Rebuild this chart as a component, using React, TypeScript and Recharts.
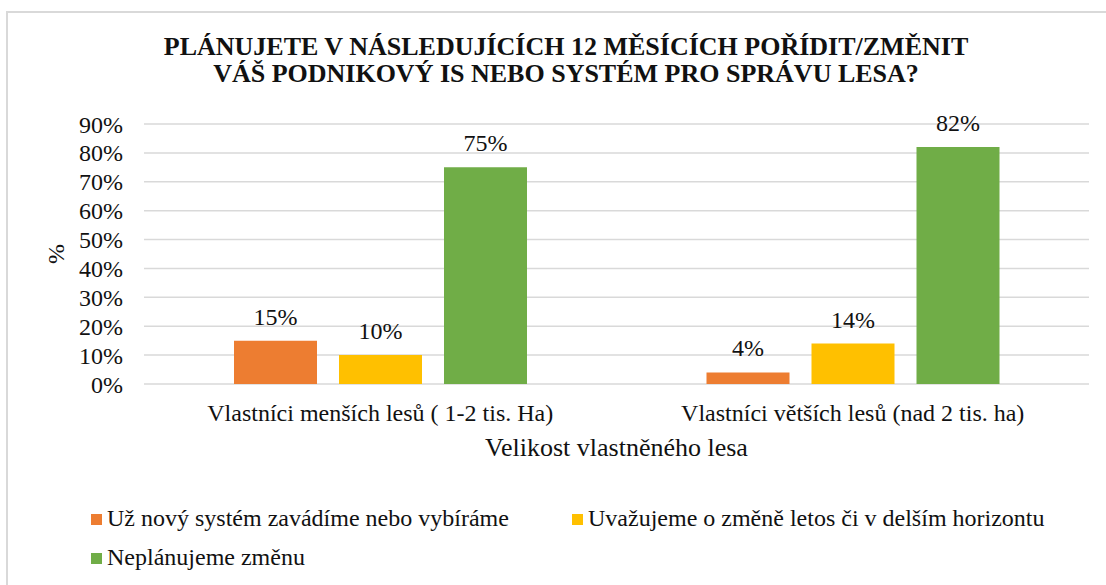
import { BarChart, Bar, XAxis, YAxis, CartesianGrid, LabelList, Legend, Label } from "recharts";

const categories = [
  "Vlastníci menších lesů ( 1-2 tis. Ha)",
  "Vlastníci větších lesů (nad 2 tis. ha)",
];
const seriesNames = [
  "Už nový systém zavádíme nebo vybíráme",
  "Uvažujeme o změně letos či v delším horizontu",
  "Neplánujeme změnu",
];
const alreadyChoosing = [15, 4];
const consideringChange = [10, 14];
const noChangePlanned = [75, 82];
const yTicks = [0, 10, 20, 30, 40, 50, 60, 70, 80, 90];
const colors = ["#ED7D31", "#FFC000", "#70AD47"];

const data = categories.map((category, i) => ({
  category,
  s0: alreadyChoosing[i],
  s1: consideringChange[i],
  s2: noChangePlanned[i],
}));

const FONT = "Liberation Serif, DejaVu Serif, Times New Roman, serif";
const TEXT = "#111";

// legend slots, same order as seriesNames
const legendPos = [
  { left: 91, top: 504 },
  { left: 572, top: 504 },
  { left: 91, top: 543 },
];

function LegendContent({ payload }: any) {
  const items = payload || [];
  return (
    <div>
      {items.map((item: any) => {
        const p = legendPos[seriesNames.indexOf(item.value)] || legendPos[0];
        return (
          <div
            key={item.value}
            style={{
              position: "absolute",
              left: p.left,
              top: p.top,
              display: "flex",
              alignItems: "center",
              height: 28,
              whiteSpace: "nowrap",
            }}
          >
            <span style={{ width: 11, height: 11, background: item.color, marginRight: 5, marginTop: 2 }} />
            <span style={{ fontSize: 24, color: TEXT, fontFamily: FONT }}>{item.value}</span>
          </div>
        );
      })}
    </div>
  );
}

export default function App() {
  return (
    <div style={{ position: "absolute", left: 0, top: 0, width: 1106, height: 585, overflow: "hidden", background: "#fff", fontFamily: FONT }}>
      <div
        style={{
          position: "absolute",
          left: 6,
          top: 11,
          width: 1200,
          height: 700,
          borderLeft: "2px solid #d9d9d9",
          borderTop: "2px solid #d9d9d9",
        }}
      />
      <div
        style={{
          position: "absolute",
          left: 0,
          width: 1132,
          top: 33,
          textAlign: "center",
          fontWeight: "bold",
          fontSize: 26,
          lineHeight: "27px",
          color: TEXT,
          fontFamily: FONT,
        }}
      >
        PLÁNUJETE V NÁSLEDUJÍCÍCH 12 MĚSÍCÍCH POŘÍDIT/ZMĚNIT
        <br />
        VÁŠ PODNIKOVÝ IS NEBO SYSTÉM PRO SPRÁVU LESA?
      </div>
      <BarChart
        width={1106}
        height={585}
        data={data}
        margin={{ top: 124, right: 17, bottom: 121, left: 8 }}
        barSize={83}
        barGap={22}
        style={{ fontFamily: FONT }}
      >
        <CartesianGrid vertical={false} stroke="#d9d9d9" strokeWidth={1.5} />
        <XAxis
          dataKey="category"
          axisLine={false}
          tickLine={false}
          tickSize={0}
          tickMargin={20}
          height={80}
          tick={{ fill: TEXT, fontSize: 24, fontFamily: FONT }}
        >
          <Label value="Velikost vlastněného lesa" position="insideTop" offset={54} fill={TEXT} fontSize={26} fontFamily={FONT} />
        </XAxis>
        <YAxis
          domain={[0, 90]}
          ticks={yTicks}
          interval={0}
          tickFormatter={(v: number) => `${v}%`}
          axisLine={false}
          tickLine={false}
          tickSize={0}
          tickMargin={21}
          width={136}
          tick={{ fill: TEXT, fontSize: 24, fontFamily: FONT }}
        >
          <Label
            content={({ viewBox }: any) => {
              const cx = 56;
              const cy = viewBox.y + viewBox.height / 2;
              return (
                <text
                  x={cx}
                  y={cy}
                  transform={`rotate(-90 ${cx} ${cy})`}
                  textAnchor="middle"
                  dominantBaseline="central"
                  fill={TEXT}
                  fontSize={24}
                  fontFamily={FONT}
                >
                  %
                </text>
              );
            }}
          />
        </YAxis>
        <Legend
          verticalAlign="middle"
          align="center"
          content={<LegendContent />}
          wrapperStyle={{ left: 0, top: 0, width: 1106, height: 585 }}
        />
        {["s0", "s1", "s2"].map((key, i) => (
          <Bar key={key} dataKey={key} name={seriesNames[i]} fill={colors[i]} isAnimationActive={false}>
            <LabelList
              dataKey={key}
              position="top"
              offset={16}
              formatter={(v: any) => `${v}%`}
              fill={TEXT}
              fontSize={24}
              fontFamily={FONT}
            />
          </Bar>
        ))}
      </BarChart>
    </div>
  );
}
